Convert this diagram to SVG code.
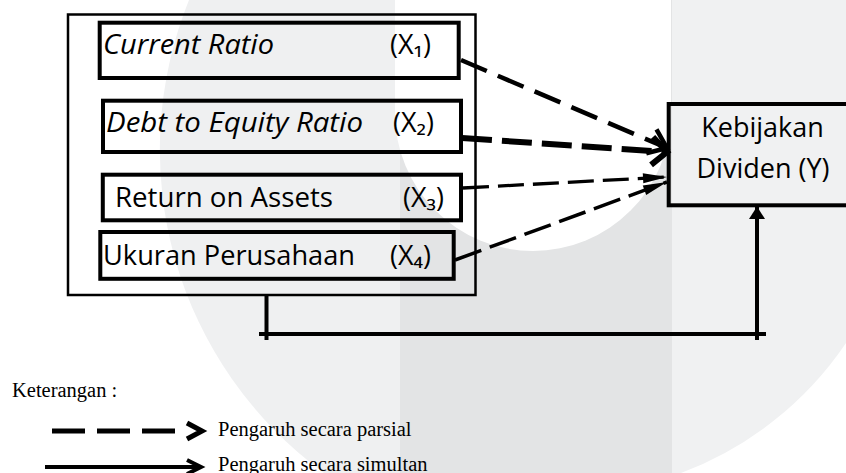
<svg xmlns="http://www.w3.org/2000/svg" width="846" height="473" viewBox="0 0 846 473">
<style>
.box{fill:none;stroke:#000;stroke-width:4}
.outer{fill:none;stroke:#000;stroke-width:2.5}
.lbl{font-family:"Open Sans","Noto Sans",sans-serif;font-size:27px;fill:#000}
.it{font-style:italic}
.leg{font-family:"Liberation Serif","Times New Roman",serif;font-size:20.5px;fill:#000}
.ln{fill:none;stroke:#000;stroke-linecap:butt}
</style>
<defs>
<marker id="chev1" markerUnits="userSpaceOnUse" viewBox="-30 -20 34 40" markerWidth="34" markerHeight="40" refX="0" refY="0" orient="auto" overflow="visible">
<path d="M-17,-13 L0,0 L-17,13" fill="none" stroke="#000" stroke-width="4.5"/>
</marker>
<marker id="chev2" markerUnits="userSpaceOnUse" viewBox="-30 -20 34 40" markerWidth="34" markerHeight="40" refX="0" refY="0" orient="auto" overflow="visible">
<path d="M-15,-14 L0,0 L-15,14" fill="none" stroke="#000" stroke-width="6"/>
</marker>
<marker id="tri" markerUnits="userSpaceOnUse" viewBox="-30 -10 34 20" markerWidth="34" markerHeight="20" refX="0" refY="0" orient="auto" overflow="visible">
<path d="M0,0 L-24,-5 L-24,5 Z" fill="#000"/>
</marker>
<marker id="triv" markerUnits="userSpaceOnUse" viewBox="-20 -12 24 24" markerWidth="24" markerHeight="24" refX="0" refY="0" orient="auto" overflow="visible">
<path d="M0,0 L-12.5,-8 L-12.5,8 Z" fill="#000"/>
</marker>
</defs>
<g id="background">
<rect x="0" y="0" width="846" height="473" fill="#ffffff"/>
<path d="M189,0 A400,400 0 0 0 324,473 L400,473 L400,0 Z" fill="#eff0f1"/>
<rect x="400" y="0" width="272" height="473" fill="#e3e4e5"/>
<path d="M672,0 L846,0 L846,343 A345,345 0 0 1 681,473 L672,473 Z" fill="#f0f1f2"/>
<path d="M395,0 L671,0 L671,113 A138,138 0 0 1 395,113 Z" fill="#ffffff"/>
</g>
<g id="group-x">
<rect class="outer" x="68" y="14.5" width="407.5" height="280.5"/>
</g>
<g id="node-x1">
<rect class="box" x="99.7" y="22.7" width="359" height="55.3"/>
<text class="lbl it" x="103" y="54" textLength="171" lengthAdjust="spacingAndGlyphs">Current Ratio</text>
<text class="lbl" x="390" y="54">(X₁)</text>
</g>
<g id="node-x2">
<rect class="box" x="103" y="100.7" width="358" height="51.3"/>
<text class="lbl it" x="106" y="131.5" textLength="257" lengthAdjust="spacingAndGlyphs">Debt to Equity Ratio</text>
<text class="lbl" x="393" y="131.5">(X₂)</text>
</g>
<g id="node-x3">
<rect class="box" x="102.8" y="174.7" width="358.2" height="45.6"/>
<text class="lbl" x="115" y="207" textLength="218" lengthAdjust="spacingAndGlyphs">Return on Assets</text>
<text class="lbl" x="403" y="207">(X₃)</text>
</g>
<g id="node-x4">
<rect class="box" x="100.3" y="232" width="353.4" height="46.8"/>
<text class="lbl" x="103" y="265" textLength="252" lengthAdjust="spacingAndGlyphs">Ukuran Perusahaan</text>
<text class="lbl" x="390" y="265">(X₄)</text>
</g>
<g id="node-y">
<rect class="box" x="668.7" y="104" width="180" height="101.3"/>
<text class="lbl" x="762.5" y="136.7" text-anchor="middle">Kebijakan</text>
<text class="lbl" x="763" y="178.3" text-anchor="middle">Dividen (Y)</text>
</g>
<g id="connectors">
<path class="ln" d="M461,60 L667,148" stroke-width="4.5" stroke-dasharray="28 12" marker-end="url(#chev1)"/>
<path class="ln" d="M462,138 L667,152" stroke-width="6" stroke-dasharray="30 10" marker-end="url(#chev2)"/>
<path class="ln" d="M463,188 L667,177" stroke-width="3.3" stroke-dasharray="26 9" marker-end="url(#tri)"/>
<path class="ln" d="M455,260 L667,182" stroke-width="3.5" stroke-dasharray="28 9" marker-end="url(#tri)"/>
<path class="ln" d="M266.5,296 V340" stroke-width="4"/>
<path class="ln" d="M259,334 H766" stroke-width="4"/>
<path class="ln" d="M757,340 V206.5" stroke-width="4" marker-end="url(#triv)"/>
</g>
<g id="legend">
<text class="leg" x="12" y="397">Keterangan :</text>
<path class="ln" d="M52,431 H175" stroke-width="5" stroke-dasharray="33 12"/>
<path class="ln" d="M187,423 L202,431 L187,439" stroke-width="5"/>
<text class="leg" x="218" y="436">Pengaruh secara parsial</text>
<path class="ln" d="M45,467 H198" stroke-width="4"/>
<path class="ln" d="M187,460 L201,467 L187,474" stroke-width="4"/>
<text class="leg" x="218" y="470.5">Pengaruh secara simultan</text>
</g>
</svg>
